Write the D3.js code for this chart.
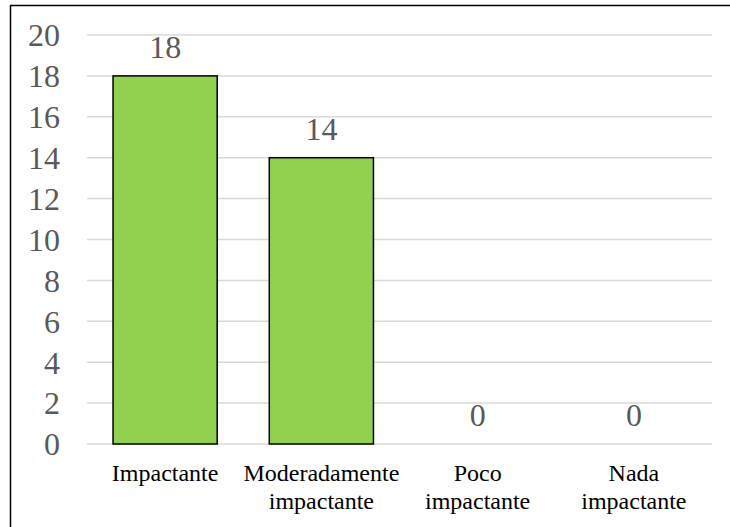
<!DOCTYPE html>
<html>
<head>
<meta charset="utf-8">
<script src="https://cdn.jsdelivr.net/npm/d3@7/dist/d3.min.js"></script>
<style>
  html, body { margin: 0; padding: 0; background: #fff; }
  svg { display: block; }
</style>
</head>
<body>
<svg id="chart" width="730" height="527"></svg>
<script>
// Response categories (each entry is one or two label lines)
const categories = [
  ["Impactante"],
  ["Moderadamente", "impactante"],
  ["Poco", "impactante"],
  ["Nada", "impactante"]
];
const values = [18, 14, 0, 0];
const yTicks = [0, 2, 4, 6, 8, 10, 12, 14, 16, 18, 20];

const svg = d3.select("#chart");
const W = 730, H = 527;
const plot = { left: 87, right: 712, top: 35, bottom: 444 };
const serif = "'Liberation Serif', 'Times New Roman', serif";

// Outer frame
svg.append("rect")
  .attr("x", 10.5).attr("y", 5.5)
  .attr("width", W + 10).attr("height", H + 10)
  .attr("fill", "none").attr("stroke", "#000").attr("stroke-width", 1.5);

const keys = categories.map((c, i) => i);
const x = d3.scaleBand().domain(keys).range([plot.left, plot.right]).paddingInner(1/3).paddingOuter(1/6);
const y = d3.scaleLinear().domain([0, 20]).range([plot.bottom, plot.top]);

// Horizontal gridlines
svg.append("g").selectAll("line").data(yTicks).join("line")
  .attr("x1", plot.left).attr("x2", plot.right)
  .attr("y1", d => y(d)).attr("y2", d => y(d))
  .attr("stroke", "#d9d9d9").attr("stroke-width", 1.5);

// Y axis labels
const yAxis = d3.axisLeft(y).tickValues(yTicks).tickSize(0).tickPadding(0).tickFormat(d3.format("d"));
const gy = svg.append("g").attr("transform", `translate(${plot.left - 27},0)`).call(yAxis);
gy.select(".domain").remove();
gy.attr("font-family", serif).attr("font-size", 32);
gy.selectAll("text")
  .style("font-family", serif).attr("font-size", 32).attr("fill", "#595959")
  .attr("dy", "0.34em");

// Bars
svg.append("g").selectAll("rect").data(values).join("rect")
  .attr("x", (d, i) => x(i)).attr("width", x.bandwidth())
  .attr("y", d => y(d)).attr("height", d => y(0) - y(d))
  .attr("fill", "#92d050")
  .attr("stroke", d => d > 0 ? "#000" : "none").attr("stroke-width", 1.5);

// Value labels
svg.append("g").selectAll("text").data(values).join("text")
  .attr("x", (d, i) => x(i) + x.bandwidth() / 2)
  .attr("y", d => y(d) - 18)
  .attr("text-anchor", "middle")
  .style("font-family", serif).attr("font-size", 32).attr("fill", "#595959")
  .text(d => d);

// Category labels
const cat = svg.append("g").selectAll("text").data(categories).join("text")
  .attr("text-anchor", "middle")
  .style("font-family", serif).attr("font-size", 24).attr("fill", "#000");
cat.each(function(lines, i) {
  d3.select(this).selectAll("tspan").data(lines).join("tspan")
    .attr("x", x(i) + x.bandwidth() / 2)
    .attr("y", (l, j) => 481 + j * 28)
    .text(l => l);
});
</script>
</body>
</html>
